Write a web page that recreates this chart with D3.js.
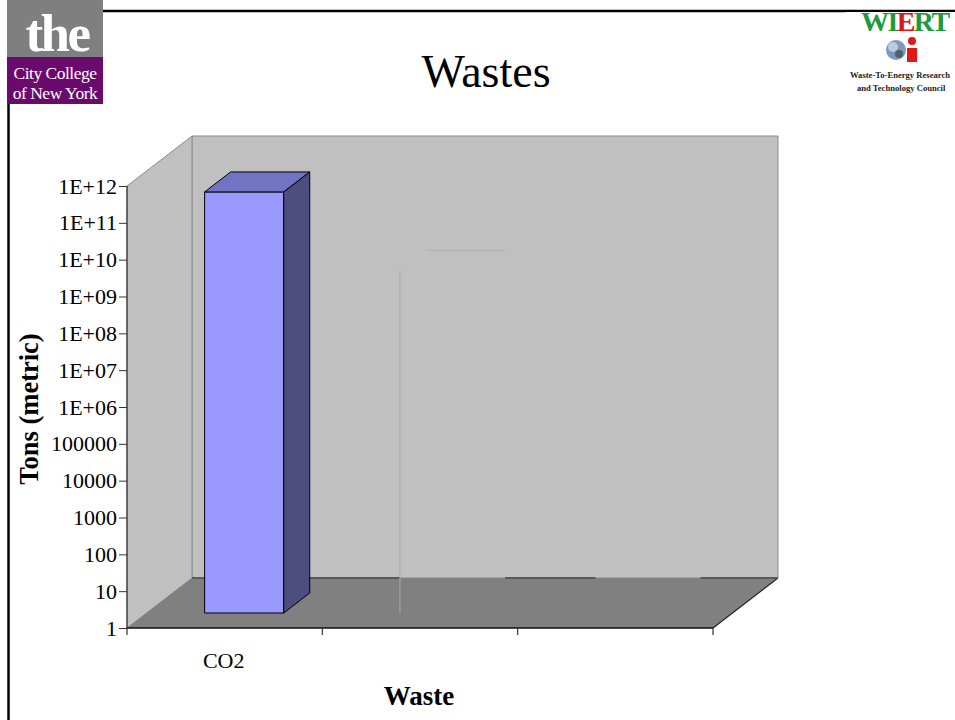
<!DOCTYPE html>
<html>
<head>
<meta charset="utf-8">
<script src="https://cdn.jsdelivr.net/npm/d3@7"></script>
<style>
  html, body { margin: 0; padding: 0; background: #fff; }
  svg { display: block; }
</style>
</head>
<body>
<script>
// ---- data ----
const categories = ["CO2", "", ""];
const tons = [2.7e11, 2e9, 1];
const tickValues = [1, 1e1, 1e2, 1e3, 1e4, 1e5, 1e6, 1e7, 1e8, 1e9, 1e10, 1e11, 1e12];
const tickLabels = ["1", "10", "100", "1000", "10000", "100000", "1E+06", "1E+07",
                    "1E+08", "1E+09", "1E+10", "1E+11", "1E+12"];
const chartTitle = "Wastes";
const yTitle = "Tons (metric)";
const xTitle = "Waste";

// ---- layout ----
const W = 955, H = 720;
const X0 = 127, X1 = 713, Y0 = 628, YTOP = 186;
const DX = 65, DY = 50;            // depth vector of the 3-D box
const ZF = 0.3, ZB = 0.7;          // bar front / back depth fractions
const serif = "'Liberation Serif', 'Times New Roman', Times, serif";

const svg = d3.select("body").append("svg").attr("width", W).attr("height", H);

const y = d3.scaleLog().domain([1, 1e12]).range([Y0, YTOP]);
const x = d3.scaleBand().domain(d3.range(categories.length)).range([X0, X1])
  .paddingInner(0.595).paddingOuter(0.2975);

const P = (px, py, z) => [px + z * DX, py - z * DY];
const poly = pts => "M" + pts.map(p => p.join(",")).join("L") + "Z";

// ---- walls and floor ----
const g = svg.append("g");
g.append("path") // back wall
  .attr("d", poly([P(X0, Y0, 1), P(X0, YTOP, 1), P(X1, YTOP, 1), P(X1, Y0, 1)]))
  .attr("fill", "#c0c0c0").attr("stroke", "#8c8c8c").attr("stroke-width", 1);
g.append("path") // left wall
  .attr("d", poly([P(X0, Y0, 0), P(X0, YTOP, 0), P(X0, YTOP, 1), P(X0, Y0, 1)]))
  .attr("fill", "#c0c0c0").attr("stroke", "#8c8c8c").attr("stroke-width", 1);
g.append("path") // floor
  .attr("d", poly([P(X0, Y0, 0), P(X1, Y0, 0), P(X1, Y0, 1), P(X0, Y0, 1)]))
  .attr("fill", "#808080").attr("stroke", "none");
g.append("line") // floor right edge
  .attr("x1", X1).attr("y1", Y0).attr("x2", X1 + DX).attr("y2", Y0 - DY)
  .attr("stroke", "#222").attr("stroke-width", 1.2);

// floor back edge, interrupted behind the pale bars
const backY = Y0 - DY;
const gaps = tons.map((v, i) => i === 0 ? null :
  [x(i) + ZF * DX, x(i) + x.bandwidth() + ZB * DX]).filter(d => d);
let segs = [], cur = X0 + DX;
gaps.forEach(([a, b]) => { segs.push([cur, a]); cur = b; });
segs.push([cur, X1 + DX]);
g.selectAll("line.back").data(segs).join("line").attr("class", "back")
  .attr("x1", d => d[0]).attr("x2", d => d[1]).attr("y1", backY).attr("y2", backY)
  .attr("stroke", "#5a5a5a").attr("stroke-width", 2);

// ---- bars ----
const bars = g.append("g");
tons.forEach((v, i) => {
  const l = x(i), r = x(i) + x.bandwidth(), t = y(v), b = y(1);
  if (i === 0) {
    bars.append("path").attr("d", poly([P(l, b, ZF), P(l, t, ZF), P(r, t, ZF), P(r, b, ZF)]))
      .attr("fill", "#9999ff").attr("stroke", "#000").attr("stroke-width", 1);
    bars.append("path").attr("d", poly([P(l, t, ZF), P(l, t, ZB), P(r, t, ZB), P(r, t, ZF)]))
      .attr("fill", "#7373c4").attr("stroke", "#000").attr("stroke-width", 1);
    bars.append("path").attr("d", poly([P(r, b, ZF), P(r, t, ZF), P(r, t, ZB), P(r, b, ZB)]))
      .attr("fill", "#4d4d80").attr("stroke", "#000").attr("stroke-width", 1);
  } else if (v > 1) {
    // pale bar: only its faint edges show
    const a = P(l, b, ZF), c = P(l, t, ZF);
    bars.append("line").attr("x1", a[0]).attr("y1", a[1]).attr("x2", c[0]).attr("y2", c[1])
      .attr("stroke", "#a9a9a9").attr("stroke-width", 1);
    const p = P(l, t, ZB), q = P(r, t, ZB);
    bars.append("line").attr("x1", p[0]).attr("y1", p[1]).attr("x2", q[0]).attr("y2", q[1])
      .attr("stroke", "#b0b0b0").attr("stroke-width", 1);
  }
});

// ---- axes ----
const yAxis = d3.axisLeft(y).tickValues(tickValues)
  .tickFormat((d, i) => tickLabels[i]).tickSize(8).tickPadding(2).tickSizeOuter(0);
const ya = svg.append("g").attr("transform", `translate(${X0},0)`).call(yAxis);
ya.select(".domain").attr("stroke", "#333").attr("stroke-width", 1.2)
  .attr("d", `M0,${YTOP}V${Y0 + 7}`);
ya.selectAll(".tick line").attr("stroke", "#333");
ya.selectAll(".tick text").attr("font-family", serif).attr("font-size", 22)
  .attr("fill", "#000");

const xTicks = d3.range(1, categories.length + 1).map(k => X0 + k * x.step());
svg.append("line").attr("x1", X0).attr("x2", X1).attr("y1", Y0).attr("y2", Y0)
  .attr("stroke", "#111").attr("stroke-width", 1.5);
svg.selectAll("line.xt").data(xTicks).join("line").attr("class", "xt")
  .attr("x1", d => d).attr("x2", d => d).attr("y1", Y0).attr("y2", Y0 + 7)
  .attr("stroke", "#333").attr("stroke-width", 1.2);
svg.selectAll("text.cat").data(categories).join("text").attr("class", "cat")
  .attr("x", (d, i) => x(i) + x.bandwidth() / 2 - 1).attr("y", 668)
  .attr("text-anchor", "middle").attr("font-family", serif).attr("font-size", 22)
  .text(d => d);

// ---- titles ----
svg.append("text").attr("x", 486).attr("y", 87).attr("text-anchor", "middle")
  .attr("font-family", serif).attr("font-size", 46).text(chartTitle);
svg.append("text").attr("transform", "translate(38,409) rotate(-90)")
  .attr("text-anchor", "middle").attr("font-family", serif).attr("font-weight", "bold")
  .attr("font-size", 26.5).text(yTitle);
svg.append("text").attr("x", 419).attr("y", 705).attr("text-anchor", "middle")
  .attr("font-family", serif).attr("font-weight", "bold").attr("font-size", 27).text(xTitle);

// ---- slide frame ----
svg.append("line").attr("x1", 100).attr("x2", W).attr("y1", 11).attr("y2", 11)
  .attr("stroke", "#000").attr("stroke-width", 2.5);
svg.append("line").attr("x1", 8.5).attr("x2", 8.5).attr("y1", 10).attr("y2", H)
  .attr("stroke", "#000").attr("stroke-width", 2.5);

// ---- City College logo ----
const cc = svg.append("g");
cc.append("rect").attr("x", 7).attr("y", 0).attr("width", 96).attr("height", 57).attr("fill", "#7f7f7f");
cc.append("rect").attr("x", 7).attr("y", 57).attr("width", 96).attr("height", 47).attr("fill", "#6a0a6c");
cc.append("text").attr("x", 57).attr("y", 51).attr("text-anchor", "middle")
  .attr("font-family", serif).attr("font-weight", "bold").attr("font-size", 53)
  .attr("fill", "#fff").attr("letter-spacing", -2.5).text("the");
cc.append("text").attr("x", 55).attr("y", 79).attr("text-anchor", "middle")
  .attr("font-family", serif).attr("font-size", 17.5).attr("fill", "#fff")
  .attr("letter-spacing", -0.5).text("City College");
cc.append("text").attr("x", 55).attr("y", 99).attr("text-anchor", "middle")
  .attr("font-family", serif).attr("font-size", 17.5).attr("fill", "#fff")
  .attr("letter-spacing", -0.5).text("of New York");

// ---- WTERT logo ----
const wl = svg.append("g");
wl.append("rect").attr("x", 845).attr("y", 12).attr("width", 110).attr("height", 85).attr("fill", "#fff");
const wt = wl.append("text").attr("x", 861).attr("y", 31)
  .attr("font-family", serif).attr("font-weight", "bold").attr("font-size", 28)
  .attr("letter-spacing", -1.6);
wt.append("tspan").attr("fill", "#1e9a3c").text("WI");
wt.append("tspan").attr("fill", "#d81818").text("E");
wt.append("tspan").attr("fill", "#1e9a3c").text("RT");
wl.append("circle").attr("cx", 896).attr("cy", 50).attr("r", 10).attr("fill", "#7a9ab8");
wl.append("circle").attr("cx", 893).attr("cy", 47).attr("r", 5).attr("fill", "#b8cde0");
wl.append("circle").attr("cx", 899).attr("cy", 54).attr("r", 4).attr("fill", "#506070");
wl.append("circle").attr("cx", 912).attr("cy", 41).attr("r", 4).attr("fill", "#e01818");
wl.append("rect").attr("x", 907).attr("y", 48).attr("width", 10).attr("height", 14).attr("fill", "#e01818");
wl.append("text").attr("x", 850).attr("y", 78).attr("font-family", serif).attr("font-weight", "bold")
  .attr("font-size", 8.6).attr("fill", "#222").text("Waste-To-Energy Research");
wl.append("text").attr("x", 857).attr("y", 91).attr("font-family", serif).attr("font-weight", "bold")
  .attr("font-size", 8.6).attr("fill", "#222").text("and Technology Council");
</script>
</body>
</html>
